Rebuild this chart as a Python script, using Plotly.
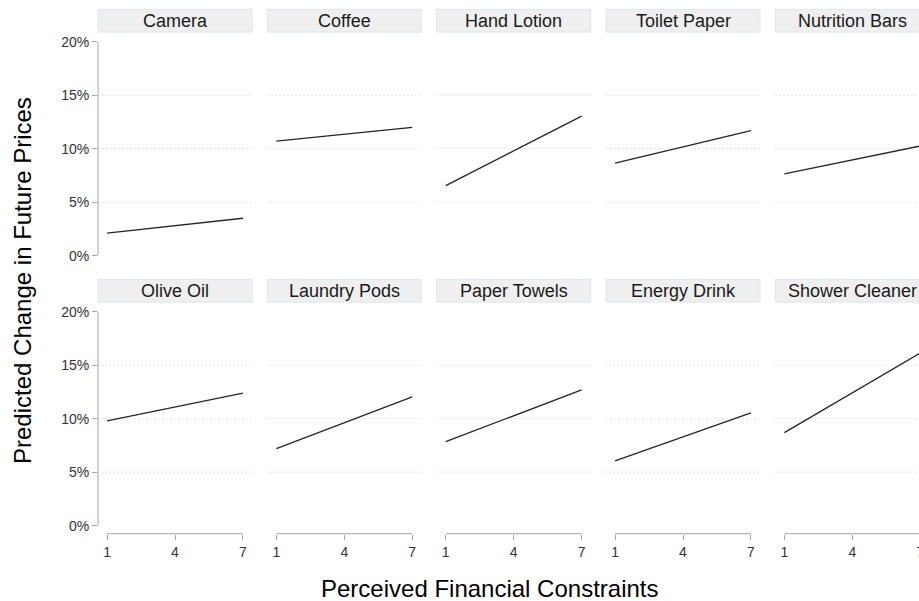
import plotly.graph_objects as go

# Products, in facet order (two rows of five)
products = [
    "Camera", "Coffee", "Hand Lotion", "Toilet Paper", "Nutrition Bars",
    "Olive Oil", "Laundry Pods", "Paper Towels", "Energy Drink", "Shower Cleaner",
]
# Perceived financial constraints scale endpoints
constraint_levels = [1, 7]
# Predicted change in future prices (%) at the low and high end of the scale
pred_low = [2.1, 10.7, 6.55, 8.65, 7.65, 9.8, 7.2, 7.85, 6.05, 8.7]
pred_high = [3.5, 12.0, 13.05, 11.7, 10.25, 12.4, 12.05, 12.7, 10.55, 16.15]

x_ticks = [1, 4, 7]
x_tick_text = ["1", "4", "7"]
y_ticks = [0, 5, 10, 15, 20]
y_tick_text = ["0%", "5%", "10%", "15%", "20%"]
y_grid = [5, 10, 15]

# Canvas in pixels; the fifth column runs past the visible page edge
W, H = 940, 601
col_left = [98.0, 267.3, 436.7, 606.0, 775.3]
col_width = 154.0
row_plot = [(32.1, 263.7), (302.1, 533.7)]
row_strip = [(9.3, 32.1), (279.3, 302.1)]
x_range = [0.6, 7.4]
y_range = [-0.75, 20.9]

FONT = "Liberation Sans, Arial, sans-serif"
AXIS_GREY = "#a6a6a6"


def fx(px):
    return px / W


def fy(py):
    return 1 - py / H


fig = go.Figure()
shapes = []
annotations = []
layout = {}

for i, name in enumerate(products):
    r, c = divmod(i, 5)
    n = i + 1
    xa = "x" if n == 1 else f"x{n}"
    ya = "y" if n == 1 else f"y{n}"
    xkey = "xaxis" if n == 1 else f"xaxis{n}"
    ykey = "yaxis" if n == 1 else f"yaxis{n}"

    x0p, x1p = col_left[c], col_left[c] + col_width
    top, bot = row_plot[r]

    fig.add_trace(go.Scatter(
        x=constraint_levels, y=[pred_low[i], pred_high[i]],
        mode="lines", line=dict(color="#262626", width=1.3),
        xaxis=xa, yaxis=ya, showlegend=False, hoverinfo="skip",
    ))

    bottom_row = r == 1
    first_col = c == 0
    layout[xkey] = dict(
        domain=[fx(x0p), fx(x1p)], range=x_range, anchor=ya,
        showgrid=False, zeroline=False, showline=False,
        tickmode="array",
        tickvals=x_ticks if bottom_row else [],
        ticktext=x_tick_text if bottom_row else [],
        ticks="outside" if bottom_row else "", ticklen=5, tickwidth=1,
        tickcolor=AXIS_GREY, showticklabels=bottom_row,
        tickfont=dict(family=FONT, size=14, color="#333333"),
        fixedrange=True,
    )
    layout[ykey] = dict(
        domain=[fy(bot), fy(top)], range=y_range, anchor=xa,
        showgrid=False, zeroline=False, showline=False,
        tickmode="array",
        tickvals=y_ticks if first_col else [],
        ticktext=y_tick_text if first_col else [],
        ticks="outside" if first_col else "", ticklen=5, tickwidth=1,
        tickcolor=AXIS_GREY, showticklabels=first_col,
        tickfont=dict(family=FONT, size=14, color="#333333"),
        fixedrange=True,
    )

    # dotted horizontal guides
    for g in y_grid:
        shapes.append(dict(
            type="line", xref=f"{xa} domain", yref=ya, x0=0, x1=1, y0=g, y1=g,
            line=dict(color="#c8c8c8", width=1, dash="1px,3px"), layer="below",
        ))
    # capped axis lines
    if first_col:
        shapes.append(dict(
            type="line", xref=f"{xa} domain", yref=ya, x0=0, x1=0,
            y0=y_ticks[0], y1=y_ticks[-1],
            line=dict(color=AXIS_GREY, width=1),
        ))
    if bottom_row:
        shapes.append(dict(
            type="line", xref=xa, yref=f"{ya} domain", x0=x_ticks[0], x1=x_ticks[-1],
            y0=0, y1=0, line=dict(color=AXIS_GREY, width=1),
        ))

    # facet strip
    s_top, s_bot = row_strip[r]
    shapes.append(dict(
        type="rect", xref="paper", yref="paper",
        x0=fx(x0p), x1=fx(x1p), y0=fy(s_bot), y1=fy(s_top),
        fillcolor="#efefef", line=dict(color="#dde6ea", width=1), layer="below",
    ))
    annotations.append(dict(
        text=name, xref="paper", yref="paper",
        x=fx((x0p + x1p) / 2), y=fy((s_top + s_bot) / 2),
        xanchor="center", yanchor="middle", showarrow=False,
        font=dict(family=FONT, size=18, color="#1a1a1a"),
    ))

annotations.append(dict(
    text="Predicted Change in Future Prices", xref="paper", yref="paper",
    x=fx(22), y=fy(281), xanchor="center", yanchor="middle", textangle=-90,
    showarrow=False, font=dict(family=FONT, size=24, color="#000000"),
))
annotations.append(dict(
    text="Perceived Financial Constraints", xref="paper", yref="paper",
    x=fx(490), y=fy(588), xanchor="center", yanchor="middle",
    showarrow=False, font=dict(family=FONT, size=24, color="#000000"),
))

fig.update_layout(
    width=W, height=H,
    margin=dict(l=0, r=0, t=0, b=0),
    paper_bgcolor="white", plot_bgcolor="white",
    shapes=shapes, annotations=annotations,
    font=dict(family=FONT),
    **layout,
)

fig.write_html(
    "out.html",
    config={"displayModeBar": False},
    post_script=(
        "document.documentElement.style.overflow='hidden';"
        "document.body.style.overflow='hidden';"
        "document.body.style.margin='0';"
    ),
)
